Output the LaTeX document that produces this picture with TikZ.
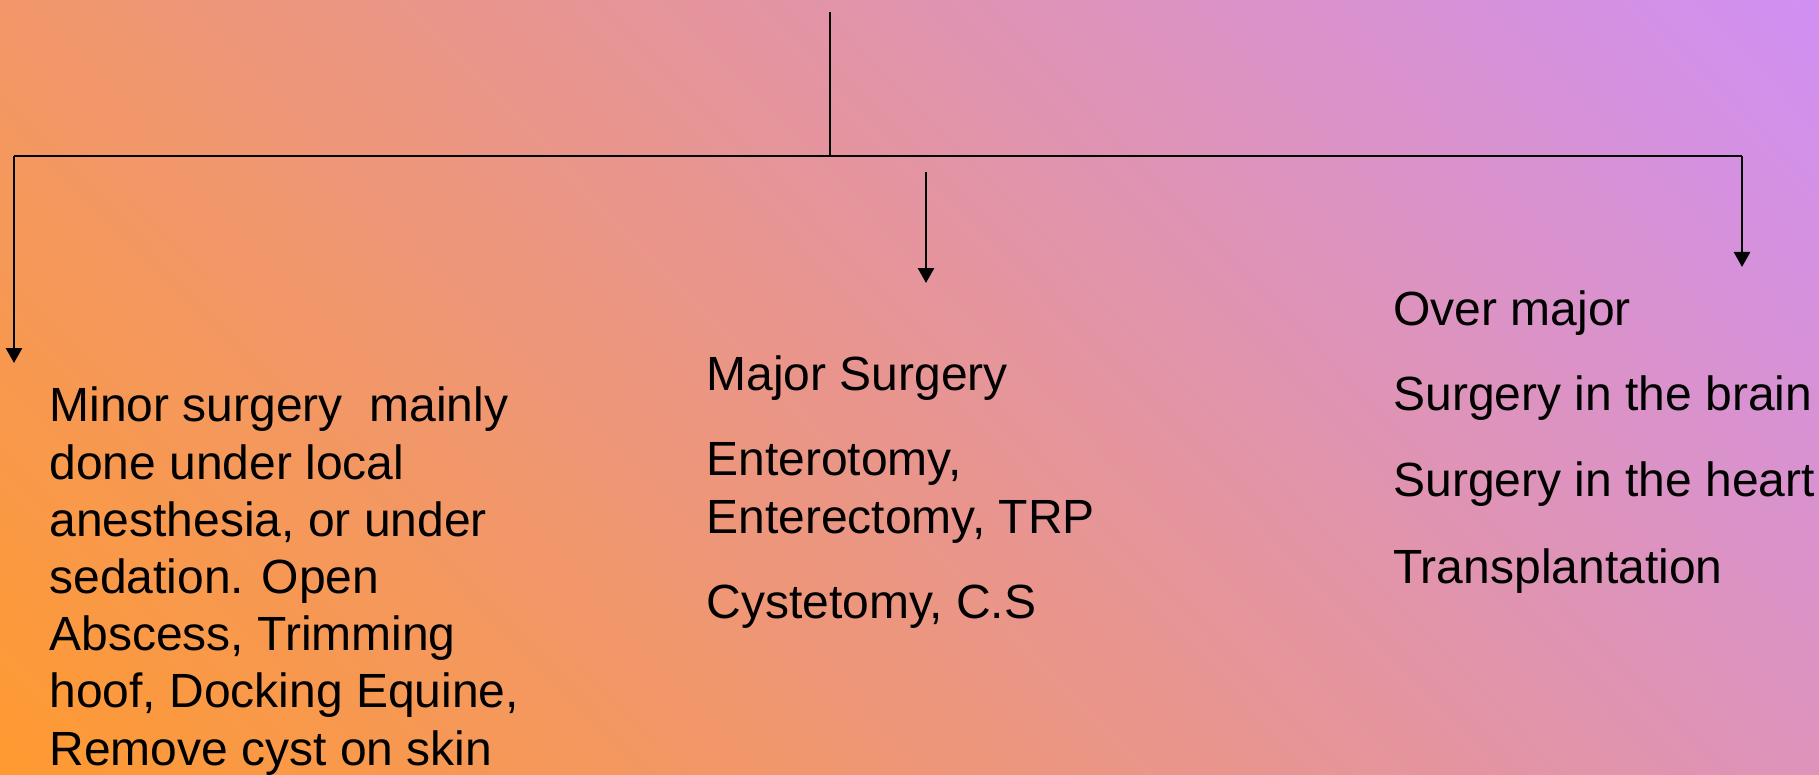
\documentclass[tikz,border=0pt]{standalone}
\usepackage{fontspec}
\setmainfont{Liberation Sans}
\usetikzlibrary{arrows.meta}
\definecolor{bgA}{HTML}{FF9A30}
\definecolor{bgB}{HTML}{EA98B0}
\definecolor{bgC}{HTML}{D090F4}
\tikzset{
  conn/.style={line width=1.3pt, black},
  arr/.style={conn, -{Triangle[width=8pt,length=7.5pt]}},
  txt/.style={inner sep=0pt, anchor=base west, align=left,
    font=\fontsize{24}{28.6}\selectfont}
}
\begin{document}
\begin{tikzpicture}[x=0.5pt,y=-0.5pt]
\useasboundingbox (0,0) rectangle (1819,775);
% background gradient
\begin{scope}
  \clip (0,0) rectangle (1819,775);
  \shade[bottom color=bgA, middle color=bgB, top color=bgC, shading angle=-46]
    (909.5-930,387.5-930) rectangle (909.5+930,387.5+930);
\end{scope}
% connector points
\coordinate (top) at (830,12);
\coordinate (hub) at (830,156);
\coordinate (L) at (14,156);
\coordinate (R) at (1742,156);
\coordinate (Lend) at (14,363);
\coordinate (Rend) at (1742,267);
\coordinate (Mstart) at (926,172);
\coordinate (Mend) at (926,283);
\draw[conn] (top) -- (hub);
\draw[conn] (L) -- (R);
\draw[arr] (L) -- (Lend);
\draw[arr] (R) -- (Rend);
\draw[arr] (Mstart) -- (Mend);
% left text
\node[txt] (minor) at (49,765) {Minor surgery\ \ mainly\\done under local\\anesthesia, or under\\sedation. Open\\Abscess, Trimming\\hoof, Docking Equine,\\Remove cyst on skin};
% middle text
\node[txt] (major) at (706,390) {Major Surgery};
\node[txt] (entero) at (706,533) {Enterotomy,\\Enterectomy, TRP};
\node[txt] (cyst) at (706,618) {Cystetomy, C.S};
% right text
\node[txt] (over) at (1393,325) {Over major};
\node[txt] (brain) at (1393,410) {Surgery in the brain};
\node[txt] (heart) at (1393,496) {Surgery in the heart};
\node[txt] (trans) at (1393,583) {Transplantation};
\end{tikzpicture}
\end{document}
